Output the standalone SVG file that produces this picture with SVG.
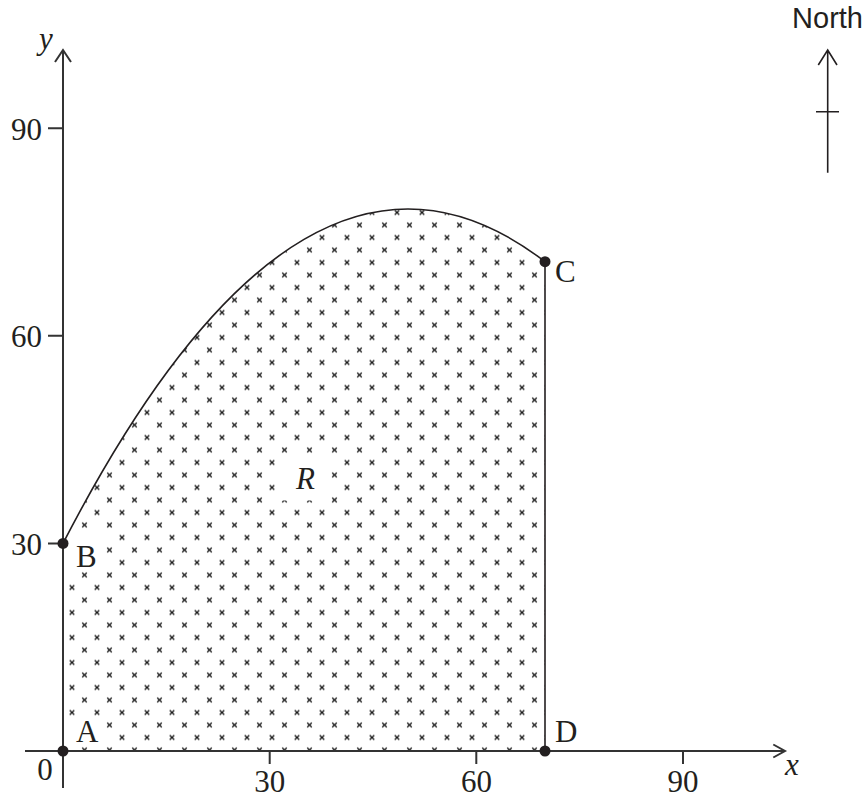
<svg xmlns="http://www.w3.org/2000/svg" width="864" height="797" viewBox="0 0 864 797">
<style>
.ax{stroke:#333;stroke-width:2;fill:none}
.ln{stroke:#231f20;stroke-width:1.6;fill:none}
.lbl{font-family:"Liberation Serif","Times New Roman",serif;font-size:31px;fill:#231f20}
.it{font-style:italic}
.mid{text-anchor:middle}
.end{text-anchor:end}
.dot{fill:#231f20}
</style>
<defs>
<pattern id="xs" patternUnits="userSpaceOnUse" x="72" y="737.5" width="25" height="25">
<path d="M-2.3,-2.3l4.6,4.6M-2.3,2.3l4.6,-4.6M22.7,-2.3l4.6,4.6M22.7,2.3l4.6,-4.6M-2.3,22.7l4.6,4.6M-2.3,27.3l4.6,-4.6M22.7,22.7l4.6,4.6M22.7,27.3l4.6,-4.6M10.2,10.2l4.6,4.6M10.2,14.8l4.6,-4.6" stroke="#1a1a1a" stroke-width="1.3" fill="none"/>
</pattern>
<mask id="holes" maskUnits="userSpaceOnUse" x="0" y="0" width="864" height="797">
<rect width="864" height="797" fill="#fff"/>
<rect x="60" y="716" width="44" height="29" fill="#000"/>
<rect x="60" y="529" width="44" height="42" fill="#000"/>
<rect x="276" y="454" width="55" height="46.5" fill="#000"/>
</mask>
</defs>
<rect width="864" height="797" fill="#fff"/>
<g id="region-R">
<path d="M63,751 L63,543.4 Q304,76.15 545,261.7 L545,751 Z" fill="url(#xs)" mask="url(#holes)"/>
<text class="lbl it" x="296" y="489" font-size="28">R</text>
</g>
<g id="axes">
<path class="ax" d="M25,751H785M773.3,744.5L785,751L773.3,757.5"/>
<path class="ax" d="M63,788V50M55,62L63,50L71,62"/>
<path class="ax" d="M48,128.2H63M48,335.8H63M48,543.4H63M269.7,751V764M476.3,751V764M683,751V764"/>
<text class="lbl end" x="42" y="139.5">90</text>
<text class="lbl end" x="42" y="347">60</text>
<text class="lbl end" x="42" y="554.5">30</text>
<text class="lbl mid" x="45" y="780">0</text>
<text class="lbl mid" x="269.7" y="791.5">30</text>
<text class="lbl mid" x="476.5" y="791.5">60</text>
<text class="lbl mid" x="683" y="791.5">90</text>
<text class="lbl it" x="39" y="49">y</text>
<text class="lbl it" x="785" y="775">x</text>
</g>
<g id="connectors">
<path class="ln" d="M63,543.4 Q304,76.15 545,261.7"/>
<path class="ln" d="M545,261.7V751"/>
</g>
<g id="A"><circle class="dot" cx="63" cy="751" r="5.5"/><text class="lbl" x="76" y="742">A</text></g>
<g id="B"><circle class="dot" cx="63" cy="543.4" r="5.5"/><text class="lbl" x="76" y="567">B</text></g>
<g id="C"><circle class="dot" cx="545" cy="261.7" r="5.5"/><text class="lbl" x="555" y="282">C</text></g>
<g id="D"><circle class="dot" cx="545" cy="751" r="5.5"/><text class="lbl" x="555" y="742">D</text></g>
<g id="north">
<text x="863" y="28.3" text-anchor="end" font-family="'Liberation Sans',Arial,sans-serif" font-size="29" fill="#231f20">North</text>
<path class="ln" d="M827.7,51V172.7M818.3,65L827.7,50L837,65M816,111.7H839"/>
</g>
</svg>
